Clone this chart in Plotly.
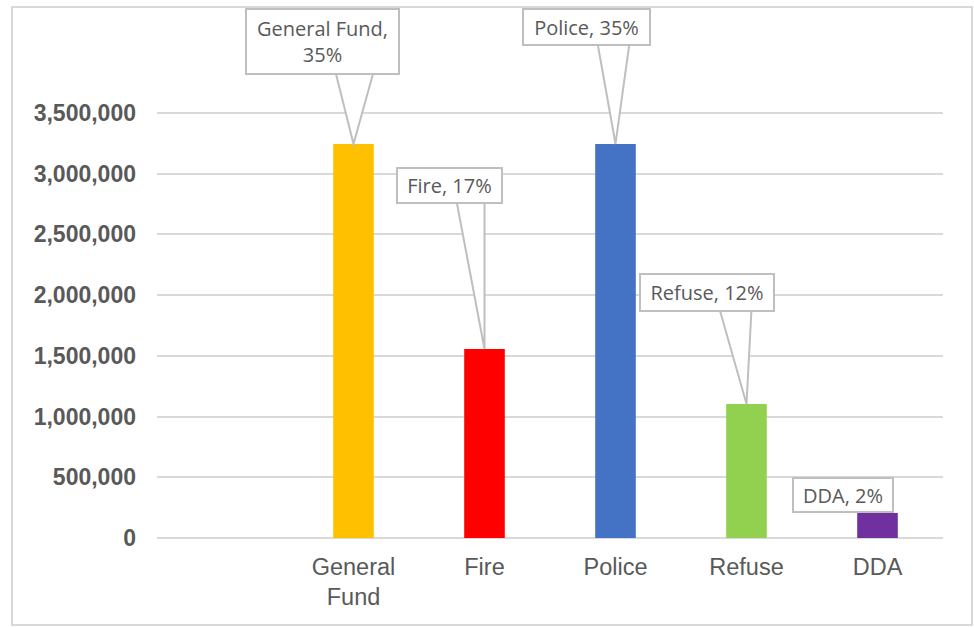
import plotly.graph_objects as go

# ---- data ----
categories = ["General Fund", "Fire", "Police", "Refuse", "DDA"]
tick_labels = ["General<br>Fund", "Fire", "Police", "Refuse", "DDA"]
values = [3245000, 1557000, 3245000, 1104000, 206000]
shares = ["35%", "17%", "35%", "12%", "2%"]
label_names = ["General Fund,<br>", "Fire, ", "Police, ", "Refuse, ", "DDA, "]
y_ticks = [0, 500000, 1000000, 1500000, 2000000, 2500000, 3000000, 3500000]

# ---- styling / layout ----
colors = ["#FFC000", "#FF0000", "#4472C4", "#92D050", "#7030A0"]
W, H = 974, 627
ML, MR, MT, MB = 157, 31, 8, 89
PW, PH = W - ML - MR, H - MT - MB
AXIS_PX = 425          # pixel height of the 0..3.5M span
y_top = y_ticks[-1] * PH / AXIS_PX   # extra headroom so callouts are not clipped
TEXT = "#595959"
GRID = "#D9D9D9"
BOX = "#BFBFBF"

# label boxes: centre offset from bar top (px, up positive) and box size
label_dx = [-31.5, -35.5, -29.5, -40, -35]
label_dy = [102.5, 163.5, 117, 111.5, 18]
label_w = [155, 107, 129, 136, 102]
label_h = [67, 37, 38, 39, 36]
# callout pointer base (left x, right x, y) relative to bar top, px
pointers = [(-18, 20, 72), (-28, 0, 148), (-18, 14, 101), (-27, 5, 95), None]

fig = go.Figure()
fig.add_trace(go.Bar(
    x=categories, y=values, marker=dict(color=colors, line=dict(width=0)),
    width=0.31, hoverinfo="skip", showlegend=False,
))

shapes = []
annotations = []
for i, cat in enumerate(categories):
    p = pointers[i]
    if p is not None:
        shapes.append(dict(
            type="path", xref="x", yref="y", xsizemode="pixel", ysizemode="pixel",
            xanchor=cat, yanchor=values[i],
            path=f"M {p[0]},{p[2]} L 0,0 L {p[1]},{p[2]} Z",
            line=dict(color=BOX, width=2), fillcolor="white", layer="above",
        ))
    annotations.append(dict(
        x=cat, y=values[i], xref="x", yref="y", showarrow=False,
        xshift=label_dx[i], yshift=label_dy[i], xanchor="center", yanchor="middle",
        text=label_names[i] + shares[i],
        font=dict(family="Open Sans", size=20, color=TEXT),
        bgcolor="white", bordercolor=BOX, borderwidth=2, borderpad=0,
        width=label_w[i] - 4, height=label_h[i] - 4, align="center",
    ))

# outer chart border
bx0, bx1, by0, by1 = 12, 972, 7, 625
shapes.append(dict(
    type="rect", xref="paper", yref="paper",
    x0=(bx0 - ML) / PW, x1=(bx1 - ML) / PW,
    y0=(H - MB - by1) / PH, y1=(H - MB - by0) / PH,
    line=dict(color=GRID, width=2), fillcolor="rgba(0,0,0,0)", layer="below",
))

fig.update_layout(
    width=W, height=H, margin=dict(l=ML, r=MR, t=MT, b=MB),
    paper_bgcolor="white", plot_bgcolor="white",
    shapes=shapes, annotations=annotations,
    xaxis=dict(
        type="category", categoryorder="array", categoryarray=categories,
        range=[-1.5, 4.5], tickvals=categories, ticktext=tick_labels,
        showgrid=False, ticks="", showline=False, zeroline=False,
        tickfont=dict(family="Liberation Sans", size=23.5, color=TEXT),
        ticklabelstandoff=12,
    ),
    yaxis=dict(
        range=[0, y_top], tickvals=y_ticks, tickformat=",",
        showgrid=True, gridcolor=GRID, gridwidth=2,
        zeroline=True, zerolinecolor=GRID, zerolinewidth=2,
        ticks="", showline=False,
        tickfont=dict(family="Liberation Sans", size=23, color=TEXT, weight="bold"),
        ticklabelstandoff=20,
    ),
)

fig.write_html("out.html", config={"displayModeBar": False, "staticPlot": True})
